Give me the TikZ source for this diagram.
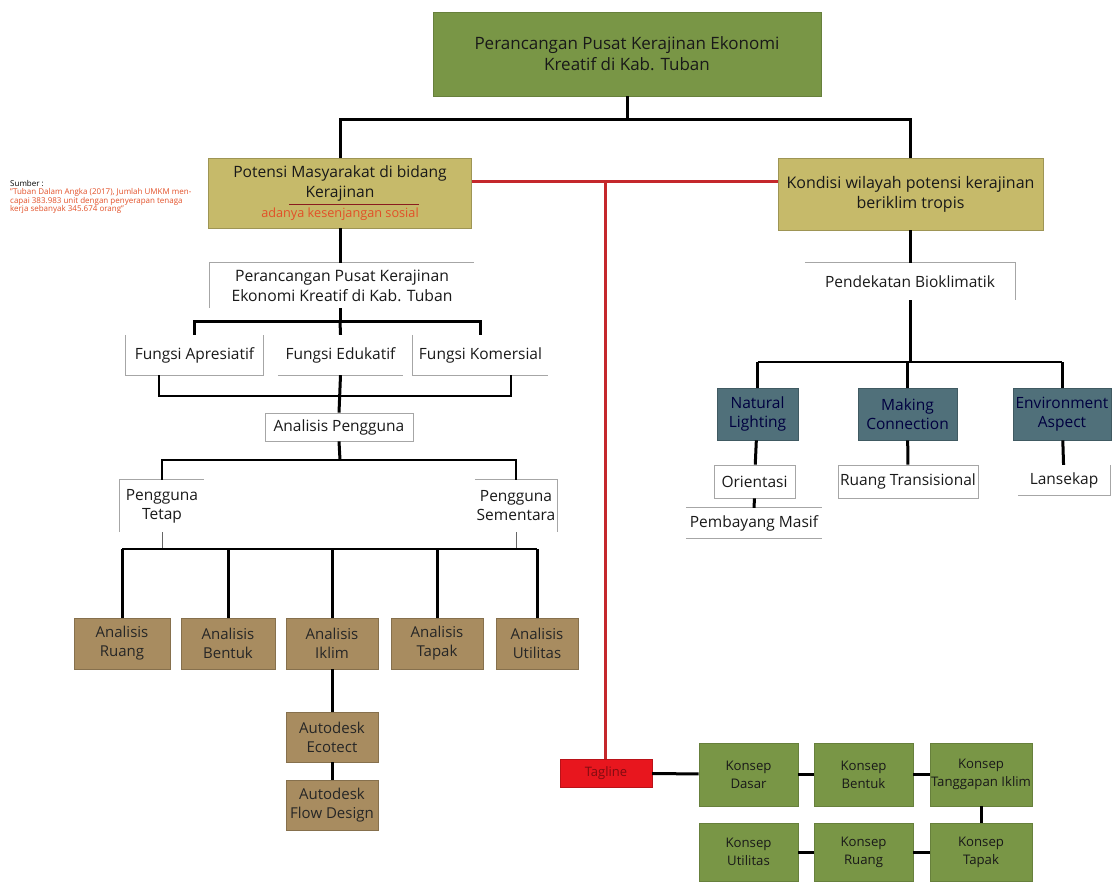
\documentclass[tikz,border=0pt]{standalone}
\usepackage{fontspec}
\setmainfont{Open Sans}
\usetikzlibrary{calc}
\definecolor{kgreen}{RGB}{121,150,70}
\definecolor{kkhaki}{RGB}{198,186,106}
\definecolor{kbrown}{RGB}{168,140,96}
\definecolor{kteal}{RGB}{80,112,122}
\definecolor{kred}{RGB}{232,22,30}
\definecolor{kline}{RGB}{196,40,44}
\definecolor{ksub}{RGB}{226,80,40}
\tikzset{
  base/.style={inner sep=0pt, align=center, font=\fontsize{15.5}{19}\selectfont, text=black!90},
  greenbox/.style={base, fill=kgreen, draw=kgreen!85!black, line width=0.6pt},
  khakibox/.style={base, fill=kkhaki, draw=kkhaki!80!black, line width=0.6pt},
  brownbox/.style={base, fill=kbrown, draw=kbrown!80!black, line width=0.6pt, font=\fontsize{15}{19}\selectfont, text=black!85},
  tealbox/.style={base, fill=kteal, draw=kteal!80!black, line width=0.6pt, text=black!75!blue},
  konsep/.style={greenbox, font=\fontsize{13.2}{18}\selectfont},
  plainbox/.style={base, draw=black!35, line width=0.7pt},
  edge/.style={draw=black!35, line width=0.7pt},
  link/.style={line width=3pt},
  linkmid/.style={line width=2pt},
  linkthin/.style={line width=1pt, black!60},
  redlink/.style={line width=3pt, kline},
  note/.style={inner sep=0pt, align=left, font=\fontsize{8}{8.5}\selectfont}}
\begin{document}
\begin{tikzpicture}[x=1pt,y=-1pt]
  \useasboundingbox (0,0) rectangle (1113,881);
  % top
  \node[greenbox, minimum width=388pt, minimum height=84pt, font=\fontsize{17}{21}\selectfont] (top) at (627,54) {Perancangan Pusat Kerajinan Ekonomi\\Kreatif di Kab. Tuban};
  \node[khakibox, minimum width=263pt, minimum height=70pt] (pot) at (340,193) {};
  \node[base, font=\fontsize{15.6}{20}\selectfont] (pottxt) at (340,183) {Potensi Masyarakat di bidang\\Kerajinan};
  \draw[kline!70!black, line width=0.6pt] (289,204) -- (419,204);
  \node[base, font=\fontsize{12.7}{14}\selectfont, text=ksub] (potsub) at (340,214) {adanya kesenjangan sosial};
  \node[khakibox, minimum width=265pt, minimum height=72pt, font=\fontsize{16}{20}\selectfont] (kon) at (910.5,194) {Kondisi wilayah potensi kerajinan\\beriklim tropis};
  \node[note, anchor=north west] (src) at (10,180) {Sumber :\\
    {\color{ksub}"Tuban Dalam Angka (2017), Jumlah UMKM men-}\\
    {\color{ksub}capai 383.983 unit dengan penyerapan tenaga}\\
    {\color{ksub}kerja sebanyak 345.674 orang"}};

  \coordinate (jt) at (627,119);
  \draw[link] (top.south) -- (jt);
  \draw[link] (pot.north) |- (jt) -| (kon.north);
  \coordinate (rj) at (605,181);
  \draw[redlink] (rj -| pot.east) -- (rj -| kon.west);

  % left branch
  \node[base, minimum width=264pt, minimum height=45pt, font=\fontsize{15.7}{20}\selectfont] (perc) at (342,285.5) {Perancangan Pusat Kerajinan\\Ekonomi Kreatif di Kab. Tuban};
  \draw[edge] (perc.south west) -- (perc.north west) -- (perc.north east);
  \draw[link] (pot.south) -- (pot.south |- perc.north);

  \node[base, minimum width=137pt, minimum height=40pt] (fa) at (194.5,355) {Fungsi Apresiatif};
  \node[base, minimum width=125pt, minimum height=40pt] (fe) at (340.5,355) {Fungsi Edukatif};
  \node[base, minimum width=135pt, minimum height=40pt] (fk) at (480.5,355) {Fungsi Komersial};
  \draw[edge] (fa.north west) -- (fa.south west) -- (fa.south east) -- (fa.north east);
  \draw[edge] (fe.south west) -- (fe.south east);
  \draw[edge] (fk.north west) -- (fk.south west) -- (fk.south east);
  \coordinate (jf) at (340,321);
  \draw[link] (perc.south -| jf) -- (jf);
  \draw[link] (fa.north) |- (jf) -| (fk.north);
  \draw[link] (jf) -- (fe.north);

  \node[plainbox, minimum width=148pt, minimum height=28pt] (ap) at (339,427) {Analisis Pengguna};
  \coordinate (ja) at (340,396);
  \draw[linkmid] ($(fa.south)+(-36,0)$) |- (ja) -| ($(fk.south)+(30,0)$);
  \draw[link] (fe.south) -- (ap.north);

  \node[base, minimum width=84pt, minimum height=52pt] (pt) at (162,506) {Pengguna\\Tetap};
  \node[base, minimum width=82pt, minimum height=52pt] (ps) at (516,506) {Pengguna\\Sementara};
  \draw[edge] (pt.south west) -- (pt.north west) -- (pt.north east);
  \draw[edge] (ps.north west) -- (ps.north east) -- (ps.south east);
  \coordinate (jp) at (340,460);
  \draw[link] (ap.south) -- (jp);
  \draw[linkmid] (pt.north) |- (jp) -| (ps.north);

  \node[brownbox, minimum width=96pt, minimum height=51pt] (a1) at (122,643.5) {Analisis\\Ruang};
  \node[brownbox, minimum width=94pt, minimum height=51pt] (a2) at (228,643.5) {Analisis\\Bentuk};
  \node[brownbox, minimum width=92pt, minimum height=51pt] (a3) at (332,643.5) {Analisis\\Iklim};
  \node[brownbox, minimum width=92pt, minimum height=51pt] (a4) at (437,643.5) {Analisis\\Tapak};
  \node[brownbox, minimum width=82pt, minimum height=51pt] (a5) at (537,643.5) {Analisis\\Utilitas};
  \coordinate (jb) at (340,549);
  \draw[linkthin] (pt.south) -- (pt.south |- jb);
  \draw[linkthin] (ps.south) -- (ps.south |- jb);
  \draw[linkmid] (a1.north |- jb) -- (a5.north |- jb);
  \foreach \n in {a1,a2,a3,a4,a5}
    \draw[link] (\n.north |- jb) -- (\n.north);

  \node[brownbox, minimum width=92pt, minimum height=50pt] (eco) at (332,737) {Autodesk\\Ecotect};
  \node[brownbox, minimum width=92pt, minimum height=50pt] (flow) at (332,805) {Autodesk\\Flow Design};
  \draw[link] (a3) -- (eco);
  \draw[link] (eco) -- (flow);

  % right branch
  \node[base, minimum width=210pt, minimum height=37pt] (pb) at (910,281.5) {Pendekatan Bioklimatik};
  \draw[edge] (pb.north west) -- (pb.north east) -- (pb.south east);
  \draw[link] (kon.south) -- (kon.south |- pb.north);

  \node[tealbox, minimum width=81pt, minimum height=52pt] (nl) at (757.5,414) {Natural\\Lighting};
  \node[tealbox, minimum width=99pt, minimum height=52pt] (mc) at (907.5,414) {Making\\Connection};
  \node[tealbox, minimum width=98pt, minimum height=52pt] (ea) at (1062,414) {Environment\\Aspect};
  \coordinate (jn) at (910,362);
  \draw[link] (pb.south) -- (jn);
  \draw[linkmid] (nl.north |- jn) -- (ea.north |- jn);
  \foreach \n in {nl,mc,ea}
    \draw[link] (\n.north |- jn) -- (\n.north);

  \node[plainbox, minimum width=81pt, minimum height=33pt] (ori) at (754.5,481.5) {Orientasi};
  \node[base, minimum width=136pt, minimum height=30pt] (pm) at (754,523) {Pembayang Masif};
  \draw[edge] (pm.north west) -- (pm.north east);
  \draw[edge] (pm.south west) -- (pm.south east);
  \node[plainbox, minimum width=140pt, minimum height=33pt] (rt) at (908,481.5) {Ruang Transisional};
  \node[base, minimum width=92pt, minimum height=30pt] (ls) at (1064,480) {Lansekap};
  \draw[edge] (ls.north east) -- (ls.south east) -- (ls.south west);
  \draw[link] (nl) -- (ori);
  \draw[link] (ori) -- (pm);
  \draw[link] (mc) -- (rt);
  \draw[link] (ea) -- (ls);

  % tagline and konsep
  \node[base, fill=kred, draw=kred!80!black, minimum width=92pt, minimum height=28pt, font=\fontsize{13}{15}\selectfont, text=kred!55!black] (tag) at (606,773) {Tagline};
  \draw[redlink] (rj) -- (rj |- tag.north);

  \node[konsep, minimum width=99pt, minimum height=63pt] (k1) at (748.5,774.5) {Konsep\\Dasar};
  \node[konsep, minimum width=99pt, minimum height=63pt] (k2) at (863.5,774.5) {Konsep\\Bentuk};
  \node[konsep, minimum width=102pt, minimum height=63pt] (k3) at (981,774.5) {Konsep\\Tanggapan Iklim};
  \node[konsep, minimum width=102pt, minimum height=58pt] (k4) at (981,852) {Konsep\\Tapak};
  \node[konsep, minimum width=99pt, minimum height=58pt] (k5) at (863.5,852) {Konsep\\Ruang};
  \node[konsep, minimum width=99pt, minimum height=58pt] (k6) at (748.5,852) {Konsep\\Utilitas};
  \draw[link] (tag) -- (k1);
  \draw[link] (k1) -- (k2);
  \draw[link] (k2) -- (k3);
  \draw[link] (k3) -- (k4);
  \draw[link] (k4) -- (k5);
  \draw[link] (k5) -- (k6);
\end{tikzpicture}
\end{document}
